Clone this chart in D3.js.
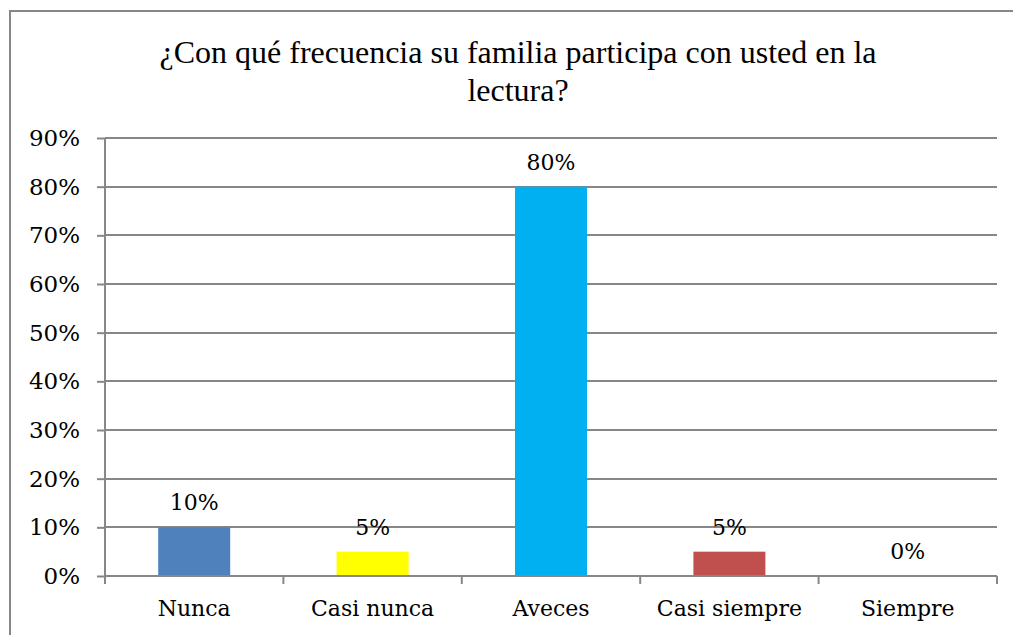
<!DOCTYPE html>
<html>
<head>
<meta charset="utf-8">
<script src="https://cdn.jsdelivr.net/npm/d3@7"></script>
<style>
  html, body { margin: 0; background: #fff; overflow: hidden; }
  svg { display: block; }
</style>
</head>
<body>
<svg></svg>
<script>
var categories = ["Nunca", "Casi nunca", "Aveces", "Casi siempre", "Siempre"];
var values = [0.10, 0.05, 0.80, 0.05, 0.00];
var colors = ["#4F81BD", "#FFFF00", "#00B0F0", "#C0504D", "none"];
var yTicks = [0, 0.1, 0.2, 0.3, 0.4, 0.5, 0.6, 0.7, 0.8, 0.9];
var titleLines = ["¿Con qué frecuencia su familia participa con usted en la", "lectura?"];

var width = 1013, height = 635;
var plotLeft = 105, plotRight = 997, plotTop = 138, plotBottom = 576;
var grey = "#878787";
var labelFont = "'DejaVu Serif', serif";

var svg = d3.select("svg").attr("width", width).attr("height", height);

// chart frame: only top and left edges are inside the picture
svg.append("path")
  .attr("d", "M10," + height + "V11H" + width)
  .attr("fill", "none").attr("stroke", grey).attr("stroke-width", 2);

svg.selectAll("text.title")
  .data(titleLines)
  .enter().append("text")
  .attr("class", "title")
  .attr("x", 518)
  .attr("y", function(d, i) { return 63 + i * 38; })
  .attr("text-anchor", "middle")
  .style("font-family", "'Liberation Serif', serif")
  .style("font-size", "32px")
  .text(function(d) { return d; });

var x = d3.scaleBand().domain(categories).range([plotLeft, plotRight]).paddingInner(0).paddingOuter(0);
var y = d3.scaleLinear().domain([0, 0.9]).range([plotBottom, plotTop]);

// gridlines
svg.append("g")
  .selectAll("line")
  .data(yTicks.slice(1))
  .enter().append("line")
  .attr("x1", plotLeft).attr("x2", plotRight)
  .attr("y1", function(d) { return Math.round(y(d)); })
  .attr("y2", function(d) { return Math.round(y(d)); })
  .attr("stroke", grey).attr("stroke-width", 2);

// y axis
var yAxis = svg.append("g")
  .attr("transform", "translate(" + plotLeft + ",0)")
  .call(d3.axisLeft(y).tickValues(yTicks).tickFormat(d3.format(".0%")).tickSize(8).tickPadding(17));
yAxis.select(".domain").attr("stroke", grey).attr("stroke-width", 2).attr("d", "M0," + plotTop + "V" + plotBottom);
yAxis.selectAll(".tick line").attr("stroke", grey).attr("stroke-width", 2);
yAxis.selectAll(".tick text")
  .style("font-family", labelFont).style("font-size", "23px").attr("fill", "#000");

// bars
svg.append("g")
  .selectAll("rect")
  .data(values)
  .enter().append("rect")
  .attr("x", function(d, i) { return x(categories[i]) + x.bandwidth() / 2 - 36; })
  .attr("width", 72)
  .attr("y", function(d) { return y(d); })
  .attr("height", function(d) { return plotBottom - y(d); })
  .attr("fill", function(d, i) { return colors[i]; });

// x axis
var xAxis = svg.append("g")
  .attr("transform", "translate(0," + plotBottom + ")")
  .call(d3.axisBottom(x).tickSize(0).tickPadding(24));
xAxis.select(".domain").attr("stroke", grey).attr("stroke-width", 2).attr("d", "M" + plotLeft + ",0H" + plotRight);
xAxis.selectAll(".tick text")
  .style("font-family", labelFont).style("font-size", "22px").attr("fill", "#000");
svg.append("g")
  .selectAll("line")
  .data(d3.range(categories.length + 1))
  .enter().append("line")
  .attr("x1", function(i) { return plotLeft + i * x.bandwidth(); })
  .attr("x2", function(i) { return plotLeft + i * x.bandwidth(); })
  .attr("y1", plotBottom).attr("y2", plotBottom + 8)
  .attr("stroke", grey).attr("stroke-width", 2);

// data labels
svg.append("g")
  .selectAll("text")
  .data(values)
  .enter().append("text")
  .attr("x", function(d, i) { return x(categories[i]) + x.bandwidth() / 2; })
  .attr("y", function(d) { return y(d) - 17; })
  .attr("text-anchor", "middle")
  .style("font-family", labelFont).style("font-size", "22px")
  .text(function(d) { return d3.format(".0%")(d); });
</script>
</body>
</html>
